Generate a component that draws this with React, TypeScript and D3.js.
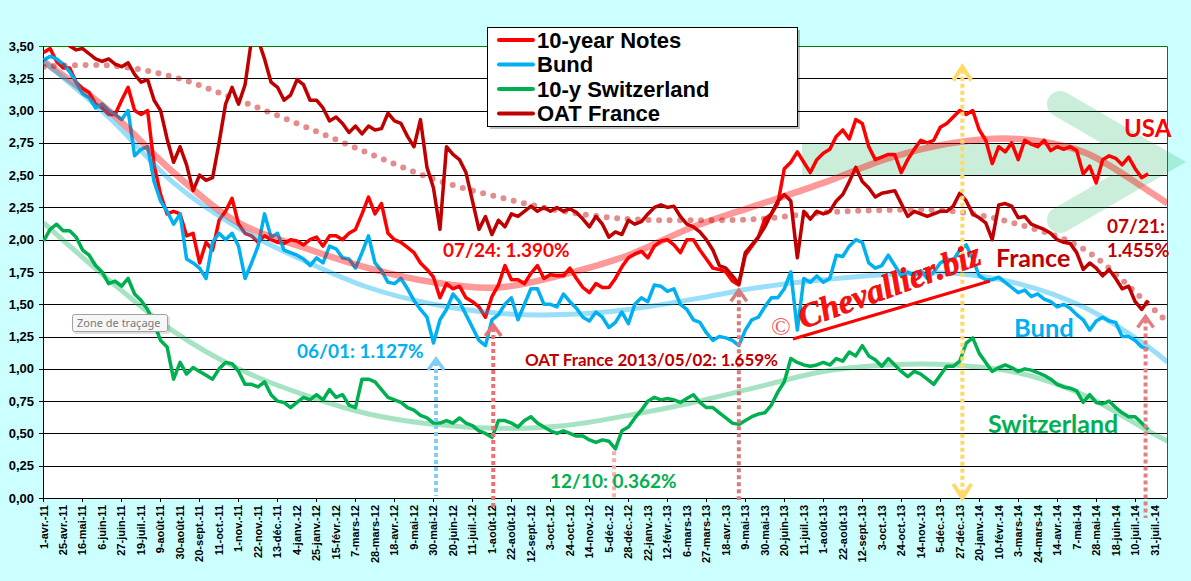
import { useEffect, useRef } from 'react';
import * as d3 from 'd3';

// category labels, one every 15 trading days starting 1 April 2011
const tickLabels = [
  '1-avr.-11', '25-avr.-11', '16-mai-11', '6-juin-11', '27-juin-11', '19-juil.-11', '9-août-11',
  '30-août-11', '20-sept.-11', '11-oct.-11', '1-nov.-11', '22-nov.-11', '13-déc.-11', '4-janv.-12',
  '25-janv.-12', '15-févr.-12', '7-mars-12', '28-mars-12', '18-avr.-12', '9-mai-12', '30-mai-12',
  '20-juin-12', '11-juil.-12', '1-août-12', '22-août-12', '12-sept.-12', '3-oct.-12', '24-oct.-12',
  '14-nov.-12', '5-déc.-12', '28-déc.-12', '22-janv.-13', '12-févr.-13', '6-mars-13', '27-mars-13',
  '18-avr.-13', '9-mai-13', '30-mai-13', '20-juin-13', '11-juil.-13', '1-août-13', '22-août-13',
  '12-sept.-13', '3-oct.-13', '24-oct.-13', '14-nov.-13', '5-déc.-13', '27-déc.-13', '20-janv.-14',
  '10-févr.-14', '3-mars-14', '24-mars-14', '14-avr.-14', '7-mai-14', '28-mai-14', '18-juin-14',
  '10-juil.-14', '31-juil.-14',
];

const yTickValues = [0, 0.25, 0.5, 0.75, 1, 1.25, 1.5, 1.75, 2, 2.25, 2.5, 2.75, 3, 3.25, 3.5];

// weekly readings (every 5 trading days)
const usNotes = [
  3.45, 3.48, 3.38, 3.33, 3.33, 3.22, 3.17, 3.14, 3.05, 3.02, 2.97, 2.97, 3.08, 3.18, 3.0, 2.97, 3.0, 2.58, 2.35, 2.2,
  2.22, 2.2, 2.03, 2.05, 1.82, 1.98, 1.92, 2.15, 2.22, 2.32, 2.12, 2.05, 2.03, 1.98, 2.03, 2.0, 1.98, 1.97, 2.0, 1.99,
  1.96, 2.0, 2.02, 1.95, 2.03, 2.03, 2.0, 2.05, 2.08, 2.2, 2.33, 2.2, 2.28, 2.05, 2.0, 1.98, 1.94, 1.9, 1.82, 1.77,
  1.71, 1.55, 1.66, 1.62, 1.64, 1.55, 1.52, 1.48, 1.4, 1.56, 1.65, 1.8, 1.69, 1.69, 1.66, 1.74, 1.8, 1.7, 1.73, 1.72,
  1.72, 1.78, 1.7, 1.63, 1.59, 1.66, 1.63, 1.63, 1.7, 1.79, 1.86, 1.89, 1.91, 1.86, 1.95, 1.99, 2.0, 1.96, 1.9, 2.0,
  2.0, 1.92, 1.85, 1.78, 1.77, 1.75, 1.68, 1.65, 1.88, 1.95, 2.02, 2.16, 2.2, 2.28, 2.55, 2.6, 2.68, 2.6, 2.52, 2.62,
  2.67, 2.7, 2.8, 2.85, 2.78, 2.93, 2.9, 2.72, 2.62, 2.64, 2.66, 2.66, 2.52, 2.62, 2.7, 2.77, 2.75, 2.77, 2.87, 2.9,
  2.95, 3.0, 2.97, 3.0, 2.85, 2.77, 2.59, 2.72, 2.68, 2.75, 2.62, 2.77, 2.74, 2.72, 2.77, 2.69, 2.72, 2.7, 2.72, 2.69,
  2.51, 2.57, 2.44, 2.62, 2.65, 2.63, 2.58, 2.64, 2.55, 2.48, 2.51,
];

const bund = [
  3.39, 3.42, 3.4, 3.36, 3.3, 3.22, 3.13, 3.1, 3.02, 3.05, 3.0, 2.97, 2.93, 3.0, 2.65, 2.7, 2.72, 2.45, 2.3, 2.22,
  2.12, 2.2, 1.85, 1.82, 1.78, 1.7, 1.98, 2.05, 2.0, 2.05, 1.95, 1.7, 1.82, 1.95, 2.2, 2.02, 2.05, 1.92, 1.9, 1.88,
  1.85, 1.8, 1.86, 1.82, 1.95, 1.93, 1.86, 1.85, 1.78, 1.9, 2.03, 1.82, 1.76, 1.67, 1.66, 1.7, 1.62, 1.53, 1.46, 1.4,
  1.2, 1.38, 1.46, 1.58, 1.52, 1.42, 1.32, 1.22, 1.18, 1.38, 1.42, 1.5, 1.55, 1.38, 1.5, 1.62, 1.62, 1.5, 1.5, 1.48,
  1.58, 1.52, 1.47, 1.4, 1.37, 1.44, 1.4, 1.32, 1.36, 1.44, 1.35, 1.5, 1.55, 1.52, 1.65, 1.64, 1.6, 1.62, 1.5, 1.46,
  1.38, 1.36, 1.28, 1.22, 1.25, 1.24, 1.22, 1.18, 1.3, 1.38, 1.4, 1.48, 1.55, 1.55, 1.62, 1.75, 1.3, 1.7, 1.67, 1.72,
  1.67, 1.7, 1.88, 1.87, 1.95, 2.0, 1.98, 1.82, 1.78, 1.8, 1.88, 1.8, 1.72, 1.75, 1.72, 1.76, 1.7, 1.75, 1.82, 1.85,
  1.84, 1.92, 1.96, 1.85, 1.72, 1.69, 1.69, 1.71, 1.67, 1.63, 1.59, 1.61, 1.56, 1.58, 1.54, 1.52, 1.48, 1.5, 1.47, 1.42,
  1.38, 1.3, 1.37, 1.4, 1.37, 1.36, 1.25, 1.25, 1.22, 1.17, 1.15,
];

const switzerland = [
  1.99, 2.08, 2.12, 2.07, 2.07, 2.02, 1.92, 1.88, 1.8, 1.75, 1.66, 1.68, 1.64, 1.7, 1.58, 1.53, 1.46, 1.35, 1.22, 1.17,
  0.92, 1.05, 0.96, 1.01, 0.98, 0.95, 0.92, 1.0, 1.05, 1.04, 0.98, 0.88, 0.88, 0.86, 0.9, 0.8, 0.75, 0.74, 0.7, 0.74,
  0.78, 0.76, 0.8, 0.76, 0.84, 0.78, 0.8, 0.72, 0.7, 0.92, 0.92, 0.9, 0.84, 0.78, 0.76, 0.74, 0.7, 0.68, 0.64, 0.62,
  0.58, 0.58, 0.6, 0.58, 0.62, 0.58, 0.56, 0.52, 0.5, 0.47, 0.6, 0.6, 0.58, 0.55, 0.6, 0.63, 0.58, 0.55, 0.52, 0.5,
  0.52, 0.5, 0.48, 0.48, 0.45, 0.43, 0.45, 0.44, 0.38, 0.52, 0.55, 0.62, 0.68, 0.75, 0.78, 0.76, 0.77, 0.76, 0.74, 0.77,
  0.8, 0.74, 0.7, 0.7, 0.66, 0.62, 0.58, 0.57, 0.6, 0.63, 0.65, 0.66, 0.72, 0.82, 0.9, 1.08, 1.05, 1.03, 1.02, 1.03,
  1.05, 1.03, 1.08, 1.06, 1.13, 1.1, 1.18, 1.1, 1.07, 1.02, 1.08, 1.03, 0.98, 0.94, 0.98, 0.96, 0.92, 0.88, 0.95, 1.02,
  1.02, 1.06, 1.2, 1.24, 1.12, 1.05, 0.98, 1.01, 1.03, 1.01, 0.98, 1.0, 0.99, 0.97, 0.95, 0.92, 0.88, 0.86, 0.85, 0.83,
  0.74, 0.8, 0.74, 0.73, 0.75, 0.7, 0.66, 0.63, 0.63, 0.58, 0.53,
];

const oatFrance = [
  3.62, 3.65, 3.6, 3.55, 3.5, 3.47, 3.48, 3.44, 3.4, 3.38, 3.4, 3.36, 3.34, 3.37, 3.28, 3.22, 3.24, 3.08, 3.0, 2.78,
  2.6, 2.72, 2.58, 2.38, 2.5, 2.46, 2.48, 2.75, 3.05, 3.18, 3.05, 3.2, 3.55, 3.55, 3.4, 3.22, 3.18, 3.08, 3.12, 3.24,
  3.2, 3.08, 3.08, 3.02, 2.92, 2.95, 2.9, 2.83, 2.88, 2.82, 2.88, 2.85, 2.86, 2.98, 2.92, 2.9, 2.8, 2.72, 2.93, 2.56,
  2.4, 2.08, 2.72, 2.66, 2.62, 2.52, 2.3, 2.08, 2.18, 2.04, 2.15, 2.1, 2.2, 2.18, 2.22, 2.26, 2.22, 2.25, 2.22, 2.25,
  2.22, 2.24, 2.21, 2.16, 2.1, 2.18, 2.12, 2.02, 2.06, 2.04, 2.15, 2.12, 2.14, 2.2, 2.25, 2.27, 2.25, 2.26, 2.18, 2.12,
  2.1, 2.06, 2.0, 1.92, 1.8, 1.78, 1.72, 1.66, 1.9, 1.96, 2.02, 2.1, 2.2, 2.3, 2.35, 2.3, 1.86, 2.22, 2.16, 2.22,
  2.2, 2.22, 2.3, 2.35, 2.45, 2.56, 2.45, 2.4, 2.33, 2.36, 2.37, 2.38, 2.28, 2.18, 2.22, 2.2, 2.18, 2.2, 2.22, 2.22,
  2.26, 2.36, 2.3, 2.2, 2.17, 2.13, 2.0, 2.27, 2.28, 2.26, 2.17, 2.18, 2.12, 2.1, 2.08, 2.05, 2.0, 1.98, 1.97, 1.9,
  1.77, 1.82, 1.78, 1.72, 1.77, 1.7, 1.62, 1.64, 1.52, 1.46, 1.53,
];

// trend curves, read every 50 trading days
const trendDays = [0, 50, 100, 150, 200, 250, 300, 350, 400, 450, 500, 550, 600, 650, 700, 750, 800, 850, 865];
const usTrend = [3.38, 3.0, 2.52, 2.13, 1.94, 1.78, 1.67, 1.63, 1.73, 1.88, 2.1, 2.27, 2.44, 2.63, 2.75, 2.78, 2.68, 2.38, 2.28];
const bundTrend = [3.38, 2.95, 2.44, 2.09, 1.84, 1.63, 1.5, 1.43, 1.42, 1.46, 1.54, 1.63, 1.69, 1.73, 1.74, 1.66, 1.48, 1.17, 1.05];
const swissTrend = [2.13, 1.69, 1.29, 1.0, 0.8, 0.65, 0.57, 0.54, 0.56, 0.64, 0.74, 0.86, 0.98, 1.03, 1.03, 0.97, 0.8, 0.52, 0.44];
const oatTrend = [3.34, 3.35, 3.26, 3.08, 2.88, 2.67, 2.47, 2.33, 2.22, 2.16, 2.15, 2.16, 2.21, 2.23, 2.22, 2.12, 1.93, 1.5, 1.36];

// marked lows: trading day and yield
const markDays = [302, 346, 439, 535, 848];
const markValues = [1.127, 1.39, 0.362, 1.659, 1.455];
const peakDay = 707;
const peakValue = 3.34;

export default function App() {
  const ref = useRef<SVGSVGElement | null>(null);

  useEffect(() => {
    if (!ref.current) return;
    const svg = d3.select(ref.current);
    svg.selectAll('*').remove();

    const width = 1191;
    const height = 581;
    const left = 43, right = 1167, top = 46, bottom = 498;
    const step = 5;

    const x = d3.scaleLinear().domain([0, 865]).range([left, right]);
    const y = d3.scaleLinear().domain([0, 3.5]).range([bottom, top]);

    svg.attr('width', width).attr('height', height);
    svg.append('rect').attr('width', width).attr('height', height).attr('fill', '#CCFFFF');
    svg.append('rect')
      .attr('x', left).attr('y', top)
      .attr('width', right - left).attr('height', bottom - top)
      .attr('fill', '#fff');

    svg.append('defs').append('clipPath').attr('id', 'plot-clip')
      .append('rect')
      .attr('x', left).attr('y', top)
      .attr('width', right - left).attr('height', bottom - top);

    // horizontal grid
    svg.append('g')
      .selectAll('line')
      .data(yTickValues.filter(v => v < 3.5))
      .join('line')
      .attr('x1', left - 4).attr('x2', right)
      .attr('y1', d => Math.round(y(d)) + 0.5).attr('y2', d => Math.round(y(d)) + 0.5)
      .attr('stroke', '#000').attr('stroke-width', 1);

    // green outline top and right
    svg.append('path')
      .attr('d', `M${left - 4},${top + 0.5}H${right + 0.5}V${bottom}`)
      .attr('fill', 'none').attr('stroke', '#008000').attr('stroke-width', 1);
    svg.append('line')
      .attr('x1', left + 0.5).attr('x2', left + 0.5).attr('y1', top).attr('y2', bottom + 0.5)
      .attr('stroke', '#000');

    // green arrow in the background
    const deco = svg.append('g').attr('opacity', 0.2);
    deco.append('rect').attr('x', 802).attr('y', 144).attr('width', 340).attr('height', 31).attr('fill', '#00B050');
    deco.append('path')
      .attr('d', 'M1060,104L1160,162L1060,220')
      .attr('fill', 'none').attr('stroke', '#00B050').attr('stroke-width', 26)
      .attr('stroke-linejoin', 'miter').attr('stroke-linecap', 'round');

    // y labels
    svg.append('g')
      .selectAll('text')
      .data(yTickValues)
      .join('text')
      .attr('x', 34).attr('y', d => y(d)).attr('dy', '0.35em')
      .attr('text-anchor', 'end')
      .attr('font-family', "'Liberation Sans', Arial, sans-serif")
      .attr('font-weight', 700).attr('font-size', 13)
      .text(d => d3.format('.2f')(d).replace('.', ','));

    // x ticks every 30 trading days
    svg.append('g')
      .selectAll('line')
      .data(d3.range(0, 865, 30))
      .join('line')
      .attr('x1', d => Math.round(x(d)) + 0.5).attr('x2', d => Math.round(x(d)) + 0.5)
      .attr('y1', bottom).attr('y2', bottom + 4)
      .attr('stroke', '#000');

    svg.append('g')
      .selectAll('text')
      .data(tickLabels)
      .join('text')
      .attr('transform', (_, j) => `translate(${x(j * 15 + 0.5)},505) rotate(-90)`)
      .attr('dy', '0.35em')
      .attr('text-anchor', 'end')
      .attr('font-family', "'Liberation Sans', Arial, sans-serif")
      .attr('font-weight', 700).attr('font-size', 11)
      .text(d => d);

    // series
    const line = d3.line<number>()
      .x((_, i) => x(i * step + 0.5))
      .y(d => y(d));

    const series = [
      { name: '10-year Notes', values: usNotes, color: '#FF0000' },
      { name: 'Bund', values: bund, color: '#00B0F0' },
      { name: '10-y Switzerland', values: switzerland, color: '#00B050' },
      { name: 'OAT France', values: oatFrance, color: '#C00000' },
    ];

    const plot = svg.append('g').attr('clip-path', 'url(#plot-clip)');
    series.forEach(s => {
      plot.append('path')
        .datum(s.values)
        .attr('fill', 'none')
        .attr('stroke', s.color)
        .attr('stroke-width', 3.5)
        .attr('stroke-linejoin', 'round')
        .attr('d', line);
    });

    // trend curves
    const trend = d3.line<number>()
      .x((_, i) => x(trendDays[i] + 0.5))
      .y(d => y(d))
      .curve(d3.curveCatmullRom);

    [
      { values: usTrend, color: '#FF0000', op: 0.4, w: 6.5 },
      { values: bundTrend, color: '#00B0F0', op: 0.4, w: 5 },
      { values: swissTrend, color: '#00B050', op: 0.35, w: 5 },
    ].forEach(t => {
      plot.append('path')
        .datum(t.values)
        .attr('fill', 'none')
        .attr('stroke', t.color)
        .attr('stroke-opacity', t.op)
        .attr('stroke-width', t.w)
        .attr('d', trend);
    });

    plot.append('path')
      .datum(oatTrend)
      .attr('fill', 'none')
      .attr('stroke', '#C00000')
      .attr('stroke-opacity', 0.45)
      .attr('stroke-width', 6)
      .attr('stroke-linecap', 'round')
      .attr('stroke-dasharray', '0 10.5')
      .attr('d', trend);

    // dotted markers
    const markColors = ['#7ECEF5', '#F07070', '#F3B0B0', '#D77C7C', '#E08080'];
    const markHeads = [true, true, false, true, true];
    const markEnds = [496, 508, 500, 500, 518];
    const arrows = svg.append('g').attr('fill', 'none');
    const chevron = (cx: number, tip: number, dir: number, w: number, h: number) =>
      `M${cx - w},${tip + dir * h}L${cx},${tip}L${cx + w},${tip + dir * h}`;

    markDays.forEach((d, k) => {
      const cx = x(d + 0.5);
      const tip = markHeads[k] ? y(markValues[k] - 0.05) : y(markValues[k]);
      arrows.append('line')
        .attr('x1', cx).attr('x2', cx)
        .attr('y1', markHeads[k] ? tip + 3 : tip).attr('y2', markEnds[k])
        .attr('stroke', markColors[k]).attr('stroke-width', 4)
        .attr('stroke-dasharray', '4 3');
      if (markHeads[k]) {
        arrows.append('path')
          .attr('d', chevron(cx, tip, 1, 8, 11))
          .attr('stroke', markColors[k]).attr('stroke-width', 3.5);
      }
    });

    const px = x(peakDay + 0.5);
    arrows.append('line')
      .attr('x1', px).attr('x2', px)
      .attr('y1', y(peakValue) + 3).attr('y2', bottom - 3)
      .attr('stroke', '#FFD966').attr('stroke-width', 4)
      .attr('stroke-dasharray', '4 3');
    arrows.append('path').attr('d', chevron(px, y(peakValue), 1, 9, 14))
      .attr('stroke', '#FFD966').attr('stroke-width', 4);
    arrows.append('path').attr('d', chevron(px, bottom, -1, 9, 14))
      .attr('stroke', '#FFD966').attr('stroke-width', 4);

    // annotations
    const note = (tx: number, ty: number, text: string, color: string, size: number) =>
      svg.append('text')
        .attr('x', tx).attr('y', ty)
        .attr('fill', color)
        .attr('font-family', "Lato, 'Liberation Sans', sans-serif")
        .attr('font-weight', 700)
        .attr('font-size', size)
        .text(text);

    note(443, 257, '07/24: 1.390%', '#FF0000', 19);
    note(297, 358, '06/01: 1.127%', '#00B0F0', 19);
    note(525, 366, 'OAT France 2013/05/02: 1.659%', '#C00000', 17);
    note(550, 488, '12/10: 0.362%', '#00B050', 19);
    note(1107, 233, '07/21:', '#C00000', 19);
    note(1107, 257, '1.455%', '#C00000', 18.5);
    note(1124, 137, 'USA', '#FF0000', 24);
    note(996, 267, 'France', '#C00000', 25);
    note(1014, 337, 'Bund', '#00B0F0', 25.5);
    note(988, 433, 'Switzerland', '#00B050', 25);

    // watermark
    svg.append('text')
      .attr('x', 771).attr('y', 335)
      .attr('fill', '#F06060')
      .attr('font-family', "'Liberation Serif', serif")
      .attr('font-size', 26)
      .text('©');
    svg.append('text')
      .attr('transform', 'translate(803,329) rotate(-20)')
      .attr('fill', '#FF1010')
      .attr('stroke', '#E00000')
      .attr('stroke-width', 0.6)
      .attr('font-family', "'Liberation Serif', serif")
      .attr('font-style', 'italic')
      .attr('font-weight', 700)
      .attr('font-size', 34)
      .text('Chevallier.biz');
    svg.append('line')
      .attr('x1', 793).attr('y1', 339).attr('x2', 990).attr('y2', 281)
      .attr('stroke', '#FF0000').attr('stroke-width', 3);

    // "Zone de traçage" tooltip
    svg.append('rect').attr('x', 74).attr('y', 316).attr('width', 96).attr('height', 18).attr('rx', 2)
      .attr('fill', '#000').attr('opacity', 0.12);
    svg.append('rect').attr('x', 72.5).attr('y', 314.5).attr('width', 95).attr('height', 17).attr('rx', 2)
      .attr('fill', '#F6F6F6').attr('stroke', '#A0A0A0');
    svg.append('text').attr('x', 77).attr('y', 327)
      .attr('fill', '#7A7A7A')
      .attr('font-family', "'Noto Sans', sans-serif")
      .attr('font-size', 11)
      .text('Zone de traçage');

    // legend
    const legend = svg.append('g');
    legend.append('rect').attr('x', 490).attr('y', 30).attr('width', 310).attr('height', 99)
      .attr('fill', '#000').attr('opacity', 0.25);
    legend.append('rect').attr('x', 487.5).attr('y', 27.5).attr('width', 310).attr('height', 99)
      .attr('fill', '#fff').attr('stroke', '#000');
    series.forEach((s, k) => {
      const ly = 40 + k * 24.5;
      legend.append('line')
        .attr('x1', 499).attr('x2', 533).attr('y1', ly).attr('y2', ly)
        .attr('stroke', s.color).attr('stroke-width', 4).attr('stroke-linecap', 'round');
      legend.append('text')
        .attr('x', 537).attr('y', ly).attr('dy', '0.36em')
        .attr('font-family', "'Liberation Sans', Arial, sans-serif")
        .attr('font-weight', 700).attr('font-size', 22)
        .text(s.name);
    });
  }, []);

  return <svg ref={ref} style={{ position: 'absolute', left: 0, top: 0, display: 'block' }}></svg>;
}
